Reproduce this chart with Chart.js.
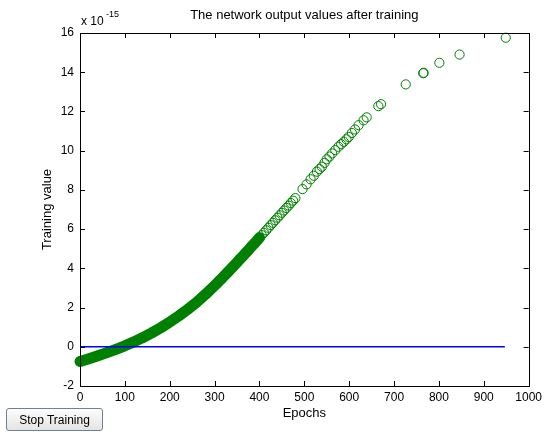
<!DOCTYPE html>
<html>
<head>
<meta charset="utf-8">
<script src="https://cdn.jsdelivr.net/npm/chart.js@4"></script>
<style>
  body { margin: 0; background: #fff; }
  #wrap { position: relative; width: 546px; height: 432px; }
  #stop {
    position: absolute; left: 6px; top: 408px; width: 97px; height: 23px;
    font: 12px "Liberation Sans", Arial, sans-serif; color: #000;
    background: linear-gradient(#fdfdfd, #e4e4e4);
    border: 1px solid #6f7f95; border-radius: 3px; padding: 0;
  }
</style>
</head>
<body>
<div id="wrap">
  <canvas id="canvas" width="546" height="432"></canvas>
  <button id="stop">Stop Training</button>
</div>
<script>
// Values in units of 1e-15
const denseEpochs = [0, 20, 40, 60, 80, 100, 120, 140, 160, 180, 200, 220, 240, 260, 280,
  300, 305, 310, 315, 320, 325, 330, 335, 340, 345, 350, 355, 360, 365, 370, 375, 380, 385, 390, 395,
  400, 405, 410, 415, 420, 425, 430, 435, 440, 445, 450, 455, 460, 465, 470, 475, 480];
const denseValues = [-0.75, -0.61, -0.46, -0.30, -0.13, 0.05, 0.25, 0.47, 0.71, 0.97, 1.26, 1.57, 1.91, 2.27, 2.68,
  3.12, 3.23, 3.35, 3.46, 3.58, 3.70, 3.82, 3.94, 4.06, 4.18, 4.30, 4.43, 4.55, 4.67, 4.80, 4.92, 5.05, 5.18, 5.30, 5.43,
  5.56, 5.69, 5.81, 5.94, 6.07, 6.20, 6.32, 6.45, 6.58, 6.70, 6.83, 6.95, 7.08, 7.20, 7.33, 7.45, 7.58];
const sparseEpochs = [496, 505, 514, 521, 528, 534, 539, 545, 550, 556, 562, 569, 576, 582, 588, 594, 599, 606,
  613, 621, 632, 639, 665, 671, 726, 765, 766, 801, 846, 949];
const sparseValues = [8.04, 8.28, 8.54, 8.72, 8.93, 9.06, 9.18, 9.38, 9.56, 9.70, 9.86, 10.03, 10.2, 10.33, 10.45, 10.58, 10.7, 10.9,
  11.08, 11.3, 11.55, 11.7, 12.27, 12.37, 13.38, 13.95, 13.97, 14.48, 14.9, 15.76];
const targetEpochs = [0, 947];
const targetValues = [0, 0];
const xTicks = [0, 100, 200, 300, 400, 500, 600, 700, 800, 900, 1000];
const yTicks = [-2, 0, 2, 4, 6, 8, 10, 12, 14, 16];

const FONT = '"Liberation Sans", Arial, sans-serif';
const green = 'rgb(0,128,0)';

const outputs = denseEpochs.map((e, i) => ({x: e, y: denseValues[i]}))
  .concat(sparseEpochs.map((e, i) => ({x: e, y: sparseValues[i]})));
// the low part of the curve is packed so tight it reads as a solid band
const band = outputs.filter(p => p.x <= 400);
const target = targetEpochs.map((e, i) => ({x: e, y: targetValues[i]}));

const matlabAxes = {
  id: 'matlabAxes',
  beforeDraw(chart) {
    const c = chart.ctx;
    c.save();
    c.fillStyle = '#fff';
    c.fillRect(0, 0, chart.width, chart.height);
    c.restore();
  },
  afterDraw(chart) {
    const c = chart.ctx;
    const a = chart.chartArea;
    const xs = chart.scales.x, ys = chart.scales.y;
    const t = 5;
    c.save();
    c.strokeStyle = '#000';
    c.lineWidth = 1;
    c.beginPath();
    xTicks.forEach(v => {
      const px = Math.round(xs.getPixelForValue(v)) + 0.5;
      c.moveTo(px, a.bottom); c.lineTo(px, a.bottom - t);
      c.moveTo(px, a.top); c.lineTo(px, a.top + t);
    });
    yTicks.forEach(v => {
      const py = Math.round(ys.getPixelForValue(v)) + 0.5;
      c.moveTo(a.left, py); c.lineTo(a.left + t, py);
      c.moveTo(a.right, py); c.lineTo(a.right - t, py);
    });
    c.stroke();
    c.strokeRect(Math.round(a.left) + 0.5, Math.round(a.top) + 0.5,
      Math.round(a.right - a.left), Math.round(a.bottom - a.top));

    c.fillStyle = '#000';
    c.textAlign = 'center';
    c.textBaseline = 'middle';
    c.font = '13px ' + FONT;
    c.fillText('The network output values after training', (a.left + a.right) / 2, 15);
    c.fillText('Epochs', (a.left + a.right) / 2, 413);
    c.save();
    c.translate(47, (a.top + a.bottom) / 2);
    c.rotate(-Math.PI / 2);
    c.fillText('Training value', 0, 0);
    c.restore();
    c.textAlign = 'left';
    c.font = '12px ' + FONT;
    c.fillText('x 10', a.left + 1, 22);
    c.font = '9px ' + FONT;
    c.fillText('-15', a.left + 26, 15);
    c.restore();
  }
};

new Chart(document.getElementById('canvas'), {
  type: 'scatter',
  data: {
    datasets: [
      {
        label: 'Target',
        type: 'line',
        data: target,
        borderColor: '#0000ff',
        borderWidth: 1.5,
        pointRadius: 0,
        clip: false
      },
      {
        label: 'Output',
        data: outputs,
        pointStyle: 'circle',
        pointRadius: 4.6,
        pointBorderWidth: 1,
        pointBorderColor: green,
        pointBackgroundColor: 'rgba(0,0,0,0)',
        clip: false
      },
      {
        label: 'Band',
        type: 'line',
        data: band,
        borderColor: green,
        borderWidth: 11,
        borderCapStyle: 'round',
        borderJoinStyle: 'round',
        pointRadius: 0,
        clip: false
      }
    ]
  },
  options: {
    responsive: false,
    animation: false,
    events: [],
    layout: { padding: { left: 0, top: 33, right: 15, bottom: 0 } },
    plugins: { legend: { display: false }, title: { display: false }, tooltip: { enabled: false } },
    scales: {
      x: {
        type: 'linear', min: 0, max: 1000,
        afterBuildTicks: s => { s.ticks = xTicks.map(v => ({value: v})); },
        afterFit: s => { s.height = 46; },
        grid: { display: false, drawTicks: false },
        border: { display: false },
        ticks: { color: '#000', font: { family: FONT, size: 12 }, padding: 4, maxRotation: 0, autoSkip: false,
          callback: v => String(v) }
      },
      y: {
        type: 'linear', min: -2, max: 16,
        afterBuildTicks: s => { s.ticks = yTicks.map(v => ({value: v})); },
        afterFit: s => { s.width = 80; },
        grid: { display: false, drawTicks: false },
        border: { display: false },
        ticks: { color: '#000', font: { family: FONT, size: 12 }, padding: 6, callback: v => String(v) }
      }
    }
  },
  plugins: [matlabAxes]
});
</script>
</body>
</html>
